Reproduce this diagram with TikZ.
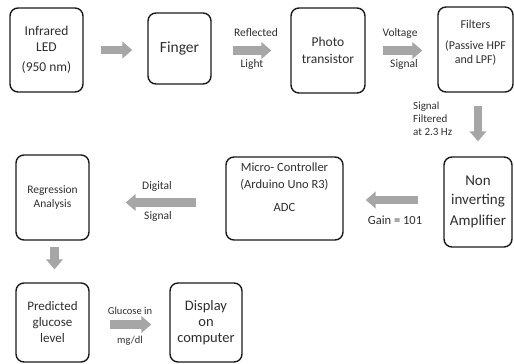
\documentclass[tikz,border=0pt]{standalone}
\usepackage{fontspec}
\setmainfont{Carlito}
\usetikzlibrary{arrows.meta}
\definecolor{FlowGray}{HTML}{A6A6A6}
\definecolor{BoxBlack}{HTML}{1A1A1A}
\definecolor{TextGray}{HTML}{2E2E2E}

\begin{document}
\begin{tikzpicture}[x=1pt,y=-1pt,
    box/.style={draw=BoxBlack,line width=1.4pt,rounded corners=8pt,align=center,inner sep=0pt,text=TextGray},
    flow/.style={draw=FlowGray,line width=8.5pt,-{Triangle[length=10pt,width=16.5pt]}},
    lbl/.style={text=TextGray,inner sep=0pt,align=center}]
    \useasboundingbox (0,0) rectangle (514,364);

    % top row
    \node[box,minimum width=73pt,minimum height=84pt,font={\fontsize{13.5}{16}\selectfont}] (led) at (46.5,50) {Infrared\\LED\\[4pt](950 nm)};
    \node[box,minimum width=63pt,minimum height=71pt,font={\fontsize{15.5}{18}\selectfont}] (finger) at (179.5,48.5) {Finger};
    \node[box,minimum width=74pt,minimum height=85pt,font={\fontsize{13.5}{16.5}\selectfont}] (photo) at (328,50.5) {Photo\\transistor};
    \node[box,minimum width=75pt,minimum height=85pt,font={\fontsize{12}{14}\selectfont}] (filters) at (475.5,49.5) {Filters\\[7pt](Passive HPF\\and LPF)\\[2pt]\mbox{}};

    % middle row
    \node[box,minimum width=68pt,minimum height=90pt,font={\fontsize{15}{19}\selectfont}] (amp) at (478,202) {Non\\inverting\\[2pt]Amplifier};
    \node[box,minimum width=117pt,minimum height=83pt,font={\fontsize{12.5}{17}\selectfont}] (mc) at (284.5,198.5) {Micro- Controller\\(Arduino Uno R3)\\[6pt]ADC\\[5pt]\mbox{}};
    \node[box,minimum width=73pt,minimum height=85pt,font={\fontsize{11.5}{14}\selectfont}] (reg) at (52.5,197.5) {Regression\\Analysis};

    % bottom row
    \node[box,minimum width=73pt,minimum height=79pt,font={\fontsize{13}{16}\selectfont}] (pred) at (52.5,322.5) {Predicted\\glucose\\level};
    \node[box,minimum width=72pt,minimum height=79pt,font={\fontsize{14.5}{16}\selectfont}] (display) at (206,322.5) {Display\\on\\computer};

    % block arrows
    \draw[flow,shorten <=17pt,shorten >=15pt] (led.east) -- (led.east -| finger.west);
    \draw[flow,shorten <=21pt,shorten >=19pt] (finger.east |- photo.west) -- (photo.west);
    \draw[flow,shorten <=17pt,shorten >=15pt] (photo.east) -- (photo.east -| filters.west);
    \draw[flow,shorten <=13pt,shorten >=15pt] (amp.north |- filters.south) -- (amp.north);
    \draw[flow,shorten <=25pt,shorten >=22pt] ([yshift=2pt]amp.west) -- ([yshift=2pt]amp.west -| mc.east);
    \draw[flow,shorten <=29pt,shorten >=36pt] ([yshift=-4pt]mc.west) -- ([yshift=-4pt]mc.west -| reg.east);
    \draw[flow,shorten <=6pt,shorten >=13pt] ([xshift=2pt]reg.south) -- ([xshift=2pt]pred.north);
    \draw[flow,shorten <=20pt,shorten >=18pt] ([yshift=-2pt]pred.east) -- ([yshift=-2pt]pred.east -| display.west);

    % arrow labels
    \node[lbl,font={\fontsize{11.5}{13}\selectfont}] (reflected) at (256,33) {Reflected};
    \node[lbl,font={\fontsize{11.5}{13}\selectfont}] (light) at (252,64) {Light};
    \node[lbl,font={\fontsize{11.5}{13}\selectfont}] (voltage) at (400,33) {Voltage};
    \node[lbl,font={\fontsize{11.5}{13}\selectfont}] (vsignal) at (404,64) {Signal};
    \node[lbl,align=left,anchor=west,font={\fontsize{11}{13}\selectfont}] (filtered) at (413,119) {Signal\\Filtered\\at 2.3 Hz};
    \node[lbl,font={\fontsize{12.5}{14}\selectfont}] (gain) at (395,220) {Gain = 101};
    \node[lbl,font={\fontsize{11.5}{13}\selectfont}] (digital) at (157,186) {Digital};
    \node[lbl,font={\fontsize{11.5}{13}\selectfont}] (dsignal) at (158,216) {Signal};
    \node[lbl,font={\fontsize{10.5}{12}\selectfont}] (glucose) at (130,311) {Glucose in};
    \node[lbl,font={\fontsize{10.5}{12}\selectfont}] (mgdl) at (130,341) {mg/dl};
\end{tikzpicture}
\end{document}
